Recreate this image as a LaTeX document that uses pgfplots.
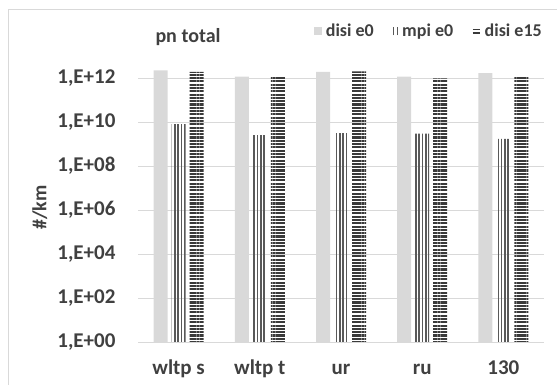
\documentclass[border=0pt]{standalone}
\usepackage{pgfplots}
\pgfplotsset{compat=1.18}
\usepackage{fontspec}
\setmainfont{Carlito}
\usetikzlibrary{patterns.meta}
\definecolor{txt}{HTML}{404040}
\definecolor{lgray}{HTML}{D9D9D9}
\definecolor{vgray}{HTML}{595959}
\definecolor{hgray}{HTML}{3A3A3A}
\begin{document}
\begin{tikzpicture}[x=1pt,y=1pt]
\useasboundingbox (0,0) rectangle (557,385);
\draw[lgray, line width=1pt] (8,-10) -- (8,375) -- (570,375);
\begin{axis}[
  at={(138pt,43pt)}, anchor=south west,
  scale only axis, width=406pt, height=286pt,
  ymode=log, ymin=1, ymax=1e13, log origin=0,
  xmin=-0.5, xmax=4.5,
  xtick={0,1,2,3,4},
  xticklabels={wltp s,wltp t,ur,ru,130},
  ytick={1,1e2,1e4,1e6,1e8,1e10,1e12},
  yticklabels={{1,E+00},{1,E+02},{1,E+04},{1,E+06},{1,E+08},{1,E+10},{1,E+12}},
  minor ytick={}, yminorgrids=false,
  ymajorgrids, grid style={lgray, line width=0.9pt},
  axis line style={draw=none},
  major tick length=0pt,
  ybar=4pt, bar width=14pt,
  clip=false,
  yticklabel style={font=\fontsize{21}{22}\selectfont\bfseries, text=txt, xshift=-19pt},
  xticklabel style={font=\fontsize{21}{22}\selectfont\bfseries, text=txt, anchor=base, yshift=-33pt},
  ylabel={\#/km},
  ylabel style={font=\fontsize{20}{21}\selectfont\bfseries, text=txt, at={(axis description cs:-0.242,0.47)}, anchor=center},
  legend columns=3,
  legend style={draw=none, fill=none, inner sep=0pt, at={(axis description cs:0.995,1.087)}, anchor=east,
    font=\fontsize{18}{19}\selectfont\bfseries, text=txt,
    nodes={inner sep=0pt},
    /tikz/every odd column/.append style={column sep=4pt},
    /tikz/every even column/.append style={column sep=19pt}},
]
\addplot[fill=lgray, draw=none,
  legend image code/.code={\fill[lgray] (0pt,-4pt) rectangle (8pt,4pt);}]
  coordinates {(0,2.2e12) (1,1.15e12) (2,1.9e12) (3,1.15e12) (4,1.65e12)};
\addplot[draw=none, pattern={Lines[angle=90, distance=3.3pt, line width=1.6pt]}, pattern color=vgray,
  legend image code/.code={\draw[vgray, line width=1.4pt] (1pt,-4pt)--(1pt,4pt) (5pt,-4pt)--(5pt,4pt);}]
  coordinates {(0,8.1e9) (1,2.5e9) (2,3.1e9) (3,3.0e9) (4,1.7e9)};
\addplot[draw=none, pattern={Lines[angle=0, distance=3.3pt, line width=2.1pt]}, pattern color=hgray,
  legend image code/.code={\draw[hgray, line width=1.5pt] (0pt,-1.8pt)--(7pt,-1.8pt) (0pt,1.8pt)--(7pt,1.8pt);}]
  coordinates {(0,1.9e12) (1,1.2e12) (2,2.0e12) (3,0.95e12) (4,1.2e12)};
\legend{disi e0, mpi e0, disi e15}
\end{axis}
\node[font=\fontsize{20}{21}\selectfont\bfseries, text=txt] at (188,348) {pn total};
\end{tikzpicture}
\end{document}
